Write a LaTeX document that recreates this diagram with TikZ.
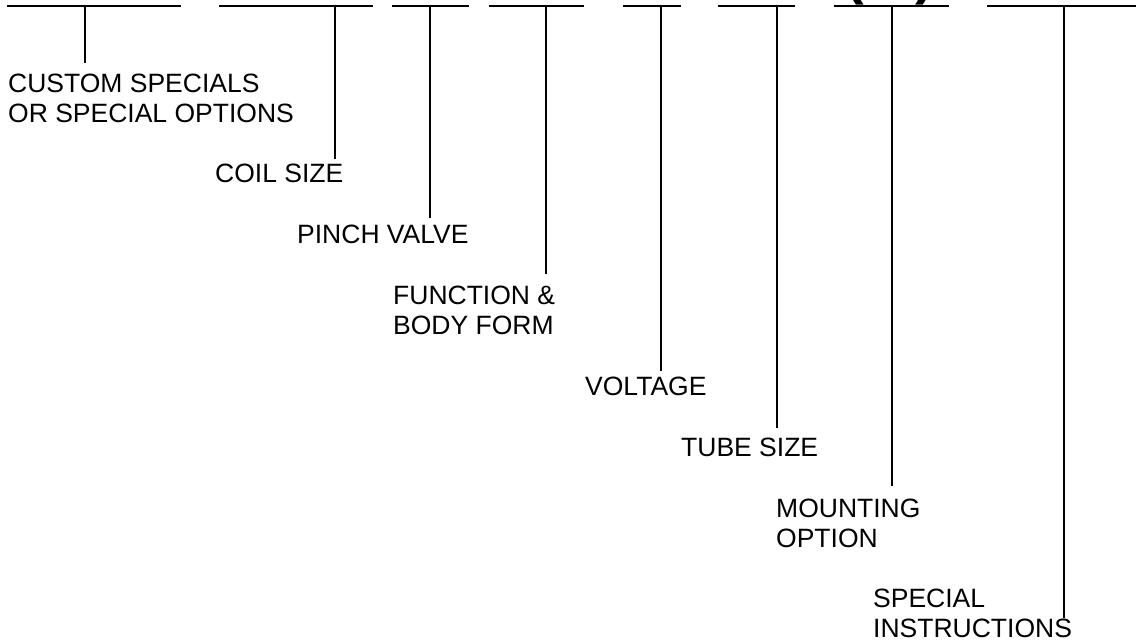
\documentclass[tikz,border=0pt]{standalone}
\usepackage{fontspec}
\setmainfont{Liberation Sans}
\usetikzlibrary{positioning}
\def\barY{6}
\def\labelFont{\fontsize{26.5}{30}\selectfont}
\tikzset{
  code bar/.style = {line width=2.5pt},
  leader/.style = {line width=2pt},
  field label/.style = {inner sep=0, anchor=base west, align=left, font=\labelFont},
}
\begin{document}
\begin{tikzpicture}[x=1pt, y=-1pt]
  \useasboundingbox (0,0) rectangle (1136,641);
  \clip (0,0) rectangle (1136,641);

  % Code blanks
  \draw[code bar] (7,\barY) -- (181,\barY);
  \draw[code bar] (219,\barY) -- (373,\barY);
  \draw[code bar] (392,\barY) -- (469,\barY);
  \draw[code bar] (489,\barY) -- (584,\barY);
  \draw[code bar] (623,\barY) -- (681,\barY);
  \draw[code bar] (718,\barY) -- (795,\barY);
  \draw[code bar] (834,\barY) -- (949,\barY);
  \draw[code bar] (987,\barY) -- (1140,\barY);

  % Bracket over the mounting blank
  \node[inner sep=0, anchor=base, font=\fontsize{56}{60}\selectfont\bfseries] (Bracket) at (890,-7) {(\hspace{52pt})};

  % Field labels (base = last line)
  \node[field label] (Custom) at (8,122) {CUSTOM SPECIALS\\OR SPECIAL OPTIONS};
  \node[field label] (Coil) at (215,182) {COIL SIZE};
  \node[field label] (Pinch) at (297,243) {PINCH VALVE};
  \node[field label] (Function) at (393,334) {FUNCTION \&\\BODY FORM};
  \node[field label] (Voltage) at (585,395) {VOLTAGE};
  \node[field label] (Tube) at (681,456) {TUBE SIZE};
  \node[field label] (Mounting) at (776,547) {MOUNTING\\OPTION};
  \node[field label] (Special) at (873,637) {SPECIAL\\INSTRUCTIONS};

  % Leader ends
  \coordinate (tCustom) at (85,\barY);    \coordinate (eCustom) at (85,63);
  \coordinate (tCoil) at (335,\barY);     \coordinate (eCoil) at (335,159);
  \coordinate (tPinch) at (430,\barY);    \coordinate (ePinch) at (430,218);
  \coordinate (tFunction) at (546,\barY); \coordinate (eFunction) at (546,274);
  \coordinate (tVoltage) at (661,\barY);  \coordinate (eVoltage) at (661,371);
  \coordinate (tTube) at (777,\barY);     \coordinate (eTube) at (777,428);
  \coordinate (tMounting) at (892,\barY); \coordinate (eMounting) at (892,486);
  \coordinate (tSpecial) at (1064,\barY); \coordinate (eSpecial) at (1064,618);

  \draw[leader] (tCustom) -- (eCustom);
  \draw[leader] (tCoil) -- (eCoil);
  \draw[leader] (tPinch) -- (ePinch);
  \draw[leader] (tFunction) -- (eFunction);
  \draw[leader] (tVoltage) -- (eVoltage);
  \draw[leader] (tTube) -- (eTube);
  \draw[leader] (tMounting) -- (eMounting);
  \draw[leader] (tSpecial) -- (eSpecial);
\end{tikzpicture}
\end{document}
